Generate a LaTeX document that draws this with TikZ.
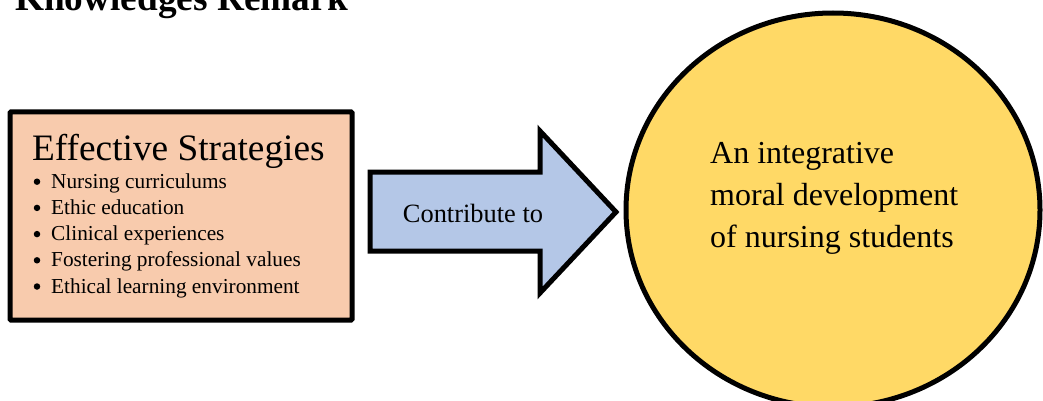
\documentclass[tikz,border=0pt]{standalone}
\usepackage{fontspec}
\setmainfont{Liberation Serif}
\definecolor{peach}{HTML}{F8CBAD}
\definecolor{lblue}{HTML}{B4C7E7}
\definecolor{gold}{HTML}{FFD966}
\begin{document}
\begin{tikzpicture}[x=1pt,y=-1pt,
  thickline/.style={line width=5pt,draw=black,line join=miter},
  item/.style={anchor=base west,inner sep=0pt,font=\fontsize{21.3}{25}\selectfont},
  bul/.style={circle,fill=black,inner sep=0pt,minimum size=6.5pt}]
\useasboundingbox (0,0) rectangle (1043,401);
\clip (0,0) rectangle (1043,401);
% title
\node[anchor=base west,inner sep=0pt,font=\bfseries\fontsize{37.3}{44}\selectfont] (title) at (15,11) {Knowledges Remark};
% left box
\node[thickline,fill=peach,rectangle,rounded corners=1pt,minimum width=342pt,minimum height=208pt,inner sep=0pt] (box) at (181,216) {};
\node[anchor=base west,inner sep=0pt,font=\fontsize{37.3}{44}\selectfont] (head) at (32,160) {Effective Strategies};
\foreach \t [count=\i] in {Nursing curriculums,Ethic education,Clinical experiences,Fostering professional values,Ethical learning environment}{
  \node[bul] (b\i) at (37,{162+26.2*\i-6.5}) {};
  \node[item] (i\i) at (51,{162+26.2*\i}) {\t};
}
% arrow
\draw[thickline,fill=lblue] (370,172) -- (540,172) -- (540,131) -- (616,212) -- (540,293) -- (540,251) -- (370,251) -- cycle;
\node[anchor=base,inner sep=0pt,font=\fontsize{26.4}{30}\selectfont] (contrib) at (473,222) {Contribute to};
% circle
\draw[thickline,fill=gold] (833,210) ellipse [x radius=207pt,y radius=197pt];
\node[anchor=base west,inner sep=0pt,font=\fontsize{32}{38}\selectfont] (c1) at (710,163) {An integrative};
\node[anchor=base west,inner sep=0pt,font=\fontsize{32}{38}\selectfont] (c2) at (710,205) {moral development};
\node[anchor=base west,inner sep=0pt,font=\fontsize{32}{38}\selectfont] (c3) at (710,247) {of nursing students};
\end{tikzpicture}
\end{document}
